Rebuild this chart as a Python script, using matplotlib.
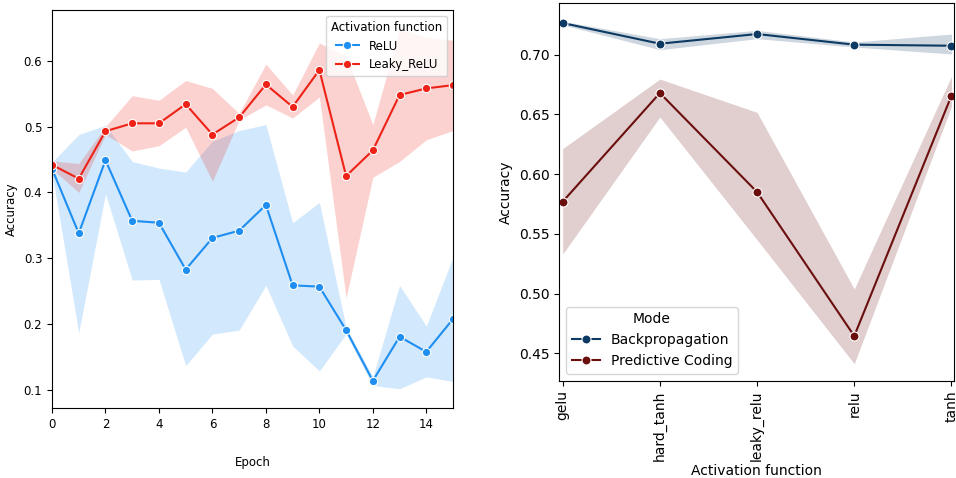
import numpy as np
import matplotlib
matplotlib.use("Agg")
import matplotlib.pyplot as plt

# left panel: accuracy per epoch for two activations
epochs = list(range(16))
relu_mean = [0.436, 0.338, 0.449, 0.357, 0.354, 0.283, 0.331, 0.342, 0.381, 0.259,
             0.257, 0.191, 0.114, 0.181, 0.158, 0.208]
relu_lo = [0.430, 0.187, 0.398, 0.267, 0.268, 0.137, 0.185, 0.191, 0.259, 0.167,
           0.129, 0.185, 0.107, 0.102, 0.120, 0.113]
relu_hi = [0.446, 0.488, 0.502, 0.447, 0.437, 0.431, 0.478, 0.494, 0.503, 0.354,
           0.385, 0.195, 0.120, 0.259, 0.197, 0.302]
leaky_mean = [0.442, 0.421, 0.493, 0.505, 0.505, 0.534, 0.488, 0.514, 0.564, 0.530,
              0.586, 0.425, 0.464, 0.548, 0.558, 0.563]
leaky_lo = [0.436, 0.400, 0.488, 0.463, 0.471, 0.499, 0.417, 0.510, 0.533, 0.513,
            0.545, 0.240, 0.423, 0.447, 0.480, 0.494]
leaky_hi = [0.448, 0.444, 0.500, 0.547, 0.540, 0.570, 0.558, 0.520, 0.595, 0.548,
            0.627, 0.607, 0.503, 0.648, 0.636, 0.631]

# right panel: accuracy per activation function and training mode
activations = ["gelu", "hard_tanh", "leaky_relu", "relu", "tanh"]
bp_mean = [0.7265, 0.7092, 0.7173, 0.7084, 0.7075]
bp_lo = [0.7250, 0.7042, 0.7134, 0.7064, 0.7006]
bp_hi = [0.7280, 0.7134, 0.7204, 0.7106, 0.7173]
pc_mean = [0.5769, 0.6679, 0.5850, 0.4644, 0.6657]
pc_lo = [0.5330, 0.6478, 0.5450, 0.4412, 0.6567]
pc_hi = [0.6213, 0.6796, 0.6517, 0.5038, 0.6818]

fig = plt.figure(figsize=(9.56, 4.78), dpi=100)

# ---- left
ax1 = fig.add_axes([0.0544, 0.1464, 0.4195, 0.8326])
series = [("ReLU", relu_mean, relu_lo, relu_hi, "#1e8ff0"),
          ("Leaky_ReLU", leaky_mean, leaky_lo, leaky_hi, "#ee2216")]
for name, m, lo, hi, c in series:
    ax1.fill_between(epochs, lo, hi, color=c, alpha=0.2, linewidth=0)
    ax1.plot(epochs, m, color=c, marker="o", markersize=6, markeredgecolor="white",
             markeredgewidth=0.8, linewidth=1.5, label=name)
ax1.set_xlim(0, 15)
ax1.set_ylim(0.0727, 0.677)
ax1.set_xticks(range(0, 15, 2))
ax1.set_yticks([0.1, 0.2, 0.3, 0.4, 0.5, 0.6])
ax1.tick_params(labelsize=8.5)
ax1.set_xlabel("Epoch", fontsize=8.5, labelpad=18)
ax1.set_ylabel("Accuracy", fontsize=8.5, labelpad=4)
ax1.legend(title="Activation function", loc="upper right", fontsize=8.5,
           title_fontsize=8.5)

# ---- right
ax2 = fig.add_axes([0.585, 0.2036, 0.413, 0.7894])
xs = np.arange(len(activations))
modes = [("Backpropagation", bp_mean, bp_lo, bp_hi, "#0c3a63"),
         ("Predictive Coding", pc_mean, pc_lo, pc_hi, "#6b0e0e")]
for name, m, lo, hi, c in modes:
    ax2.fill_between(xs, lo, hi, color=c, alpha=0.2, linewidth=0)
    ax2.plot(xs, m, color=c, marker="o", markersize=6.5, markeredgecolor="white",
             markeredgewidth=0.8, linewidth=1.5, label=name)
ax2.set_xlim(-0.035, 4.027)
ax2.set_ylim(0.427, 0.743)
ax2.set_xticks(xs)
ax2.set_xticklabels(activations, rotation=90)
ax2.set_yticks([0.45, 0.50, 0.55, 0.60, 0.65, 0.70])
ax2.tick_params(labelsize=10)
ax2.set_xlabel("Activation function", fontsize=10, labelpad=2)
ax2.set_ylabel("Accuracy", fontsize=10)
ax2.legend(title="Mode", loc="lower left", fontsize=10, title_fontsize=10)

fig.savefig("out.png", dpi=100)
